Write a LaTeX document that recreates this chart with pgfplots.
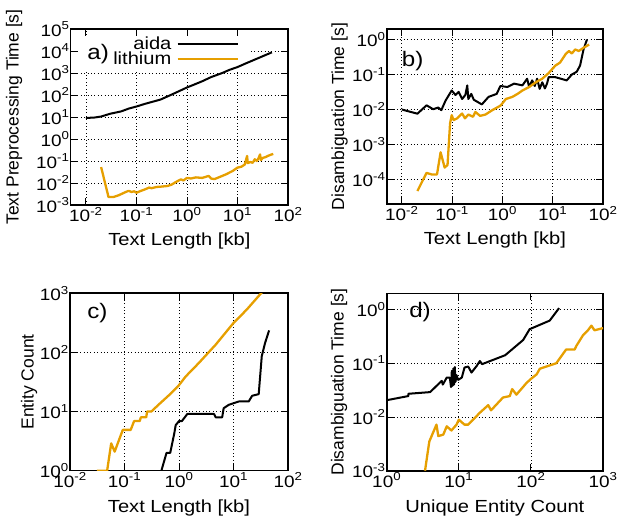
\documentclass[border=0pt]{standalone}
\usepackage{fontspec}
\setmainfont{Liberation Sans}[FakeStretch=1.15]
\newfontfamily\ylfont{Liberation Sans}
\usepackage{pgfplots}
\pgfplotsset{compat=1.18}
\definecolor{lithorange}{HTML}{E69F00}

\pgfplotsset{
  every axis/.append style={
    xmode=log, ymode=log, log basis x=10, log basis y=10,
    scale only axis, anchor=north west,
    axis line style={line width=1.6pt},
    every tick/.style={black, line width=0.9pt},
    major tick length=7pt, minor tick length=4pt,
    grid=major,
    major grid style={black, line width=0.8pt, dash pattern=on 0.8pt off 2.6pt},
    tick label style={font=\fontsize{16.5}{18}\selectfont},
    xticklabel={10\textsuperscript{\pgfmathparse{int(round(\tick))}\pgfmathresult}},
    yticklabel={10\textsuperscript{\pgfmathparse{int(round(\tick))}\pgfmathresult}},
    yticklabel style={inner xsep=1pt},
    xticklabel style={inner ysep=2pt},
  },
  every axis x label/.style={at={(axis description cs:0.5,-0.233)}, anchor=base,
    font=\fontsize{17.5}{19}\selectfont},
  every axis y label/.style={rotate=90, anchor=center,
    font=\ylfont\fontsize{17.5}{19}\selectfont},
  aidaline/.style={black, line width=2pt, line join=round, mark=none},
  lithline/.style={lithorange, line width=2.3pt, line join=round, mark=none},
}

\begin{document}
\begin{tikzpicture}
\useasboundingbox (0,0) rectangle (621pt,-518pt);

% a) text preprocessing time
\begin{axis}[at={(70.7pt,-29pt)}, width=217.3pt, height=176pt,
    xmin=0.005, xmax=100, ymin=1e-3, ymax=1e5,
    xtick={1e-2,1e-1,1,10,100},
    ytick={1e-3,1e-2,1e-1,1,10,100,1000,1e4,1e5},
    xlabel={Text Length [kb]}, ylabel={Text Preprocessing Time [s]},
    ylabel style={at={(axis description cs:-0.261,0.5)}},
    legend style={at={(rel axis cs:0.788,0.972)}, anchor=north east, draw=none, fill=none,
      font=\fontsize{17.5}{17}\selectfont, row sep=0pt,
      nodes={inner ysep=0.5pt, inner xsep=5pt}},
    legend cell align=right, legend plot pos=right,
    legend image code/.code={\draw[#1] (0pt,0pt) -- (60pt,0pt);},
  ]
\fill[white] (rel axis cs:0.035,0.96) rectangle (rel axis cs:0.825,0.76);
\addplot[aidaline] coordinates {
(0.01,9) (0.015,9.5) (0.02,10.5) (0.03,14) (0.05,18) (0.07,24) (0.1,30)
(0.15,40) (0.2,48) (0.3,62) (0.5,105) (0.7,150) (1,220) (1.5,320) (2,420)
(3,650) (5,1000) (7,1400) (10,1860) (15,2800) (20,3700) (30,5500) (48,8700)
};
\addplot[lithline] coordinates {
(0.02,0.053) (0.028,0.0023) (0.035,0.0023) (0.045,0.0028) (0.06,0.0038)
(0.07,0.0044) (0.08,0.0039) (0.09,0.0042) (0.1,0.0036) (0.12,0.0043)
(0.15,0.0052) (0.178,0.0062) (0.2,0.0058) (0.25,0.0066) (0.3,0.0068)
(0.41,0.0073) (0.5,0.0085) (0.6,0.011) (0.76,0.0147) (0.85,0.013) (1,0.017)
(1.2,0.016) (1.5,0.018) (2,0.017) (2.7,0.021) (3,0.016) (3.5,0.015) (4,0.017)
(5,0.021) (6,0.025) (7,0.03) (8,0.035) (10,0.05) (12,0.055) (14,0.07)
(15.5,0.17) (16,0.08) (18,0.09) (20,0.083) (22,0.12) (24,0.1) (26,0.13)
(28,0.2) (29,0.11) (32,0.14) (36,0.15) (40,0.17) (45,0.19) (51,0.21)
};
\legend{aida, lithium}
\node[font=\fontsize{21}{21}\selectfont] at (rel axis cs:0.126,0.858) {a)};
\end{axis}

% b) disambiguation time vs text length
\begin{axis}[at={(386.7pt,-29pt)}, width=216.3pt, height=175pt,
    xmin=0.005, xmax=100, ymin=2e-5, ymax=2,
    xtick={1e-2,1e-1,1,10,100},
    ytick={1e-4,1e-3,1e-2,1e-1,1},
    xlabel={Text Length [kb]}, ylabel={Disambiguation Time [s]},
    ylabel style={at={(axis description cs:-0.218,0.5)}},
  ]
\addplot[aidaline] coordinates {
(0.01,0.010) (0.0204,0.0076) (0.031,0.0132) (0.042,0.0102) (0.053,0.0114)
(0.061,0.0096) (0.074,0.018) (0.098,0.035) (0.117,0.026) (0.135,0.032)
(0.158,0.020) (0.183,0.026) (0.2,0.049) (0.21,0.020) (0.24,0.028) (0.27,0.019)
(0.39,0.014) (0.53,0.023) (0.77,0.028) (0.91,0.047) (1.26,0.044) (1.7,0.055)
(2.5,0.049) (3.1,0.076) (3.4,0.044) (3.9,0.068) (4.4,0.047) (4.9,0.076)
(5.5,0.039) (6.2,0.060) (7.0,0.040) (7.7,0.055) (8.3,0.084) (11.3,0.084)
(19,0.068) (24,0.10) (30,0.12) (35,0.18) (41,0.52) (48,1.0)
};
\addplot[lithline] coordinates {
(0.0204,4.7e-5) (0.031,1.55e-4) (0.039,1.4e-4) (0.050,1.4e-4) (0.059,6.0e-4)
(0.071,2.2e-4) (0.081,2.6e-4) (0.091,4.0e-3) (0.098,6.9e-3) (0.107,5.0e-3)
(0.126,5.6e-3) (0.158,7.7e-3) (0.18,5.6e-3) (0.21,7.2e-3) (0.26,6.2e-3)
(0.29,8.5e-3) (0.36,6.6e-3) (0.46,7.2e-3) (0.63,9.6e-3) (0.92,0.013)
(1.17,0.020) (1.58,0.023) (2.0,0.028) (2.5,0.035) (3.4,0.044) (4.6,0.060)
(6.2,0.076) (8.3,0.11) (11.3,0.18) (14,0.22) (18,0.38) (21,0.47) (24,0.40)
(28,0.52) (33,0.47) (41,0.58) (53,0.72)
};
\node[font=\fontsize{21}{21}\selectfont] at (rel axis cs:0.12,0.817) {b)};
\end{axis}

% c) entity count vs text length
\begin{axis}[at={(70pt,-293.3pt)}, width=218pt, height=177.4pt,
    xmin=0.01, xmax=100, ymin=1, ymax=1000,
    xtick={1e-2,1e-1,1,10,100},
    ytick={1,10,100,1000},
    xlabel={Text Length [kb]}, ylabel={Entity Count},
    ylabel style={at={(axis description cs:-0.188,0.5)}},
  ]
\addplot[aidaline] coordinates {
(0.475,1) (0.59,2.0) (0.69,2.0) (0.82,4.3) (0.87,5.9) (1.0,6.9) (1.13,6.9)
(1.42,9.1) (4.4,9.1) (4.7,8) (6.2,8) (6.6,11.4) (8.2,13) (12.5,14.8)
(19,14.8) (22,18.5) (29,19.7) (33,86) (38,145) (45,236)
};
\addplot[lithline] coordinates {
(0.031,1) (0.048,1) (0.057,2.9) (0.066,2.1) (0.093,4.9) (0.13,4.9) (0.15,6.9)
(0.19,6.9) (0.20,8.0) (0.25,8.0) (0.26,10) (0.31,10) (0.45,13.8) (0.7,20)
(1.0,28) (1.32,39) (2.3,66) (4.7,135) (10,315) (17.5,530) (32,1000) (50,1500)
};
\node[font=\fontsize{21}{21}\selectfont] at (rel axis cs:0.126,0.886) {c)};
\end{axis}

% d) disambiguation time vs unique entity count
\begin{axis}[at={(386.7pt,-293.3pt)}, width=216.3pt, height=177.4pt,
    xmin=1, xmax=1000, ymin=1e-3, ymax=2,
    xtick={1,10,100,1000},
    ytick={1e-3,1e-2,1e-1,1},
    xlabel={Unique Entity Count}, ylabel={Disambiguation Time [s]},
    ylabel style={at={(axis description cs:-0.22,0.5)}},
  ]
\addplot[aidaline] coordinates {
(1,0.05) (1,0.0138) (1,0.0205) (2,0.0245) (2,0.027) (4,0.029) (5.8,0.047)
(6,0.040) (6.8,0.054) (7.5,0.054) (7.8,0.036) (8,0.072) (8.2,0.038) (8.4,0.08)
(8.6,0.04) (8.8,0.085) (9,0.045) (9.3,0.06) (9.8,0.049) (11,0.054) (12,0.083)
(13.5,0.087) (15,0.067) (17.7,0.089) (19.6,0.11) (21,0.096) (44,0.141)
(78,0.27) (96,0.43) (182,0.62) (246,1.06)
};
\addplot[lithline] coordinates {
(3.4,0.001) (3.9,0.0035) (4.9,0.0072) (5.2,0.0044) (6.1,0.0047) (6.8,0.0067)
(7.9,0.0056) (9.3,0.0072) (10,0.0089) (12,0.0072) (13.5,0.0072) (19.6,0.012)
(25.6,0.0166) (28,0.0133) (41,0.023) (51,0.0245) (55,0.033) (63,0.026)
(87,0.043) (100,0.051) (120,0.062) (133,0.079) (225,0.10) (308,0.18)
(405,0.18) (427,0.21) (527,0.33) (618,0.41) (690,0.50) (762,0.41) (1000,0.45)
};
\node[font=\fontsize{21}{21}\selectfont] at (rel axis cs:0.154,0.897) {d)};
\end{axis}
\end{tikzpicture}
\end{document}
